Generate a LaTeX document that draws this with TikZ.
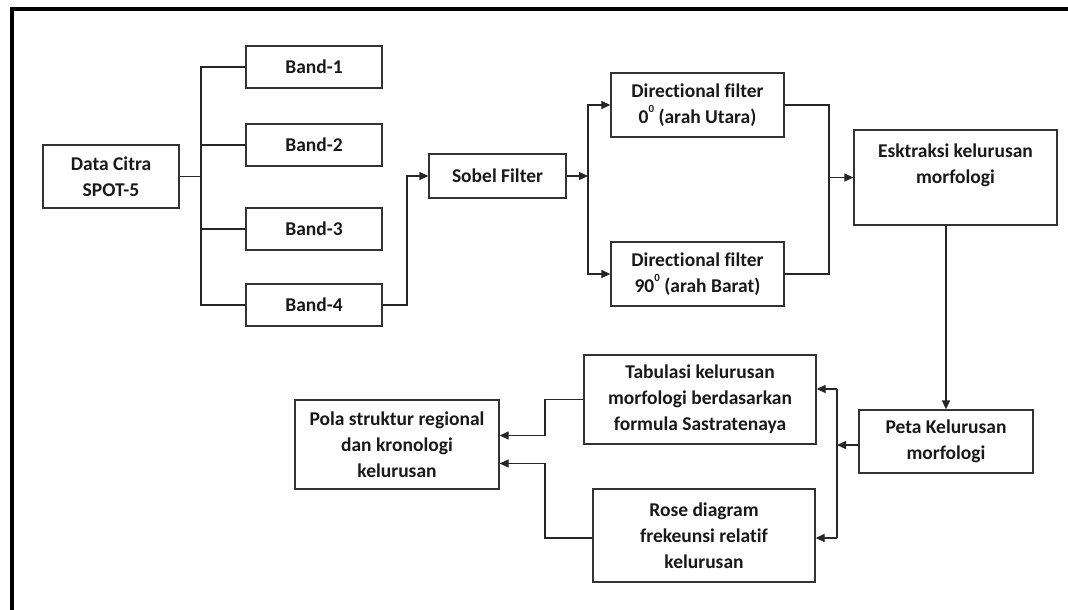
\documentclass[tikz,border=0pt]{standalone}
\usepackage{fontspec}
\setmainfont{Carlito}[Ligatures=NoCommon]
\usetikzlibrary{arrows.meta}
\newcommand{\degsup}[1]{\raisebox{0.55em}{\fontsize{11}{11}\selectfont #1}}
\begin{document}
\begin{tikzpicture}[x=1pt,y=-1pt,
  box/.style={draw=black!80, line width=1.3pt, fill=white, inner sep=0pt,
              align=center, font=\fontsize{19.5}{26}\selectfont\bfseries, text=black!90},
  txt/.style={inner sep=0pt, align=center, font=\fontsize{19.5}{26}\selectfont\bfseries, text=black!90},
  link/.style={draw=black!85, line width=1.3pt},
  arr/.style={link, -{Triangle[length=9pt,width=8pt]}}]
\useasboundingbox (0,0) rectangle (1068,610);
\fill[white] (0,0) rectangle (1068,610);

% frame
\draw[line width=4pt] (11.5,610) -- (11.5,9) -- (1068,9);

% junction columns
\coordinate (busx) at (201,0);
\coordinate (j1) at (407,0);
\coordinate (j2) at (588,0);
\coordinate (j3) at (829,0);
\coordinate (j4) at (837,0);
\coordinate (j5) at (545,0);

% boxes
\node[box, minimum width=136, minimum height=63] (data) at (111,176.5) {Data Citra\\SPOT-5};
\node[box, minimum width=136, minimum height=42] (b1) at (314,67) {Band-1};
\node[box, minimum width=136, minimum height=42] (b2) at (314,145) {Band-2};
\node[box, minimum width=136, minimum height=42] (b3) at (314,229) {Band-3};
\node[box, minimum width=136, minimum height=42] (b4) at (314,305) {Band-4};
\node[box, minimum width=137, minimum height=44] (sobel) at (497.5,176) {Sobel Filter};
\node[box, minimum width=173, minimum height=64] (d0) at (697.5,105) {Directional filter\\0\degsup{0} (arah Utara)};
\node[box, minimum width=173, minimum height=64] (d90) at (697.5,274) {Directional filter\\90\degsup{0} (arah Barat)};
\node[box, minimum width=203, minimum height=95] (esk) at (955.5,177.5) {};
\node[txt] (esktxt) at (955.5,165) {Esktraksi kelurusan\\morfologi};
\node[box, minimum width=174, minimum height=63] (peta) at (946,441.5) {Peta Kelurusan\\morfologi};
\node[box, minimum width=232, minimum height=89] (tab) at (700,399.5) {Tabulasi kelurusan\\morfologi berdasarkan\\formula Sastratenaya};
\node[box, minimum width=222, minimum height=93] (rose) at (704,535.5) {Rose diagram\\frekeunsi relatif\\kelurusan};
\node[box, minimum width=204, minimum height=89] (pola) at (397,444.5) {Pola struktur regional\\dan kronologi\\kelurusan};

% data to bands
\draw[link] (data.east) -- (data.east -| busx);
\draw[link] (b1.west) -- (b1.west -| busx) -- (b4.west -| busx) -- (b4.west);
\draw[link] (b2.west) -- (b2.west -| busx);
\draw[link] (b3.west) -- (b3.west -| busx);

% band-4 to sobel
\draw[arr] (b4.east) -- (b4.east -| j1) |- (sobel.west);

% sobel to directional filters
\draw[arr] (sobel.east) -- (sobel.east -| j2);
\draw[arr] (sobel.east -| j2) |- (d0.west);
\draw[arr] (sobel.east -| j2) |- (d90.west);

% directional filters to extraction
\draw[link] (d0.east) -- (d0.east -| j3) -- (d90.east -| j3) -- (d90.east);
\draw[arr] (esk.west -| j3) -- (esk.west);

% extraction to map
\draw[arr] (peta.north |- esk.south) -- (peta.north);

% map to outputs
\draw[arr] ([yshift=-3.5pt]peta.west) -- ([yshift=-3.5pt]peta.west -| j4);
\draw[link] ([yshift=10.5pt]tab.east -| j4) -- ([yshift=-2.5pt]rose.east -| j4);
\draw[arr] ([yshift=10.5pt]tab.east -| j4) -- ([yshift=10.5pt]tab.east);
\draw[arr] ([yshift=-2.5pt]rose.east -| j4) -- ([yshift=-2.5pt]rose.east);

% outputs to structural pattern
\draw[arr] (tab.west) -- (tab.west -| j5) |- ([yshift=9pt]pola.east);
\draw[arr] ([yshift=-2.5pt]rose.west) -- ([yshift=-2.5pt]rose.west -| j5) |- ([yshift=-19pt]pola.east);
\end{tikzpicture}
\end{document}
